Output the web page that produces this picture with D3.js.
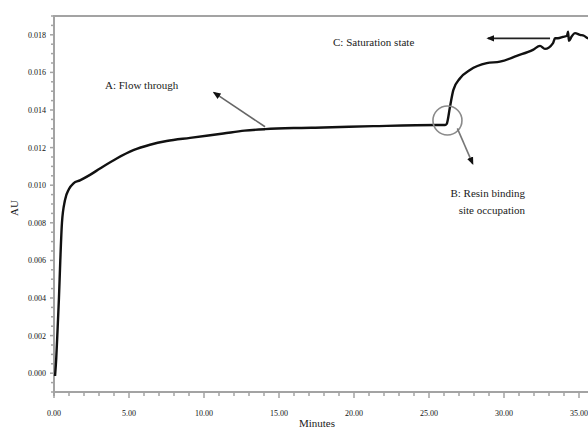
<!DOCTYPE html>
<html>
<head>
    <title>Breakthrough curve</title>
    <script src="https://d3js.org/d3.v7.min.js"></script>
    <style>
        body {
            margin: 0;
            background: #fff;
            overflow: hidden;
        }

        svg text {
            font-family: "Liberation Serif", "Times New Roman", serif;
            fill: #1a1a1a;
        }

        .axis-line {
            stroke: #a3a3a3;
            stroke-width: 2;
        }

        .tick-mark {
            stroke: #a3a3a3;
            stroke-width: 1.5;
        }

        .tick-label {
            font-size: 8px;
            fill: #111;
        }

        .trace {
            fill: none;
            stroke: #111;
            stroke-width: 2.4;
            stroke-linejoin: round;
        }

        .note {
            font-size: 11px;
        }
    </style>
</head>
<body>
    <div id="chart"></div>

    <script>
        // Elution time (min) and absorbance (AU)
        const timeMin = [
            0.07, 0.15, 0.22, 0.33, 0.42, 0.53, 0.73, 1.0, 1.3, 1.73,
            2.4, 3.07, 4.18, 5.29, 6.4, 7.51, 9.07, 11.29, 12.7, 14.07,
            16.0, 17.96, 21.29, 25.51, 26.07, 26.18, 26.4, 26.62, 27.07, 27.73,
            28.85, 29.73, 30.85, 31.93, 32.4, 32.73, 33.27, 33.4, 33.6, 33.93,
            34.2, 34.27, 34.33, 34.51, 34.73, 35.07, 35.33, 35.6, 36.0
        ];
        const absorbance = [
            -0.00015, 0.0008, 0.002, 0.004, 0.006, 0.008, 0.0092, 0.0098, 0.0101, 0.01026,
            0.01055, 0.01089, 0.01142, 0.01186, 0.01215, 0.01235, 0.01252, 0.01275, 0.0129, 0.01298,
            0.01304, 0.01307, 0.01314, 0.0132, 0.0132, 0.01326, 0.01417, 0.01506, 0.01569, 0.01613,
            0.01649, 0.01657, 0.01688, 0.0172, 0.01741, 0.01725, 0.01756, 0.01782, 0.01782, 0.01789,
            0.01795, 0.01816, 0.01768, 0.01791, 0.01809, 0.018, 0.01795, 0.01782, 0.0179
        ];

        const yTickValues = [0, 0.002, 0.004, 0.006, 0.008, 0.010, 0.012, 0.014, 0.016, 0.018];
        const xTickValues = [0, 5, 10, 15, 20, 25, 30, 35];

        // Annotations in data units: [time, AU]
        const labelA = { text: "A: Flow through", at: [3.4, 0.01512] };
        const arrowA = [[14.07, 0.01311], [10.67, 0.01492]];
        const labelB = { lines: ["B: Resin binding", "site occupation"], at: [31.4, 0.00935], gap: 0.00088 };
        const circleB = { at: [26.23, 0.01344], r: 14.5 };
        const arrowB = [[26.89, 0.01302], [27.91, 0.01115]];
        const labelC = { text: "C: Saturation state", at: [18.6, 0.01741] };
        const arrowC = [[33.07, 0.01781], [28.93, 0.01781]];

        const width = 588, height = 428;
        const plotLeft = 54, plotRight = 600, plotTop = 16, plotBottom = 392;

        const x = d3.scaleLinear().domain([0, 36.4]).range([plotLeft, plotRight]);
        const y = d3.scaleLinear().domain([-0.001, 0.019]).range([plotBottom, plotTop]);

        const svg = d3.select("#chart")
            .append("svg")
            .attr("width", width)
            .attr("height", height);

        const defs = svg.append("defs");
        function marker(id, color) {
            defs.append("marker")
                .attr("id", id)
                .attr("viewBox", "0 0 10 10")
                .attr("refX", 8)
                .attr("refY", 5)
                .attr("markerUnits", "userSpaceOnUse")
                .attr("markerWidth", 8)
                .attr("markerHeight", 8)
                .attr("orient", "auto")
                .append("path")
                .attr("d", "M0,1 L10,5 L0,9 Z")
                .attr("fill", color);
        }
        marker("headDark", "#111");

        // frame: top border
        svg.append("line")
            .attr("class", "axis-line")
            .attr("x1", plotLeft).attr("x2", plotRight)
            .attr("y1", plotTop).attr("y2", plotTop);

        // y axis
        const yMinor = d3.range(-0.001, 0.01901, 0.0005);
        svg.append("g").selectAll("line")
            .data(yMinor)
            .join("line")
            .attr("class", "tick-mark")
            .attr("x1", d => plotLeft - (yTickValues.some(v => Math.abs(v - d) < 1e-9) ? 4 : 3))
            .attr("x2", plotLeft)
            .attr("y1", d => y(d)).attr("y2", d => y(d));

        svg.append("line")
            .attr("class", "axis-line")
            .attr("x1", plotLeft).attr("x2", plotLeft)
            .attr("y1", plotTop - 1).attr("y2", plotBottom + 4);

        svg.append("g").selectAll("text")
            .data(yTickValues)
            .join("text")
            .attr("class", "tick-label")
            .attr("x", plotLeft - 8)
            .attr("y", d => y(d) + 3)
            .attr("text-anchor", "end")
            .text(d3.format(".3f"));

        // x axis
        const xMinor = d3.range(0, 37, 1);
        svg.append("g").selectAll("line")
            .data(xMinor)
            .join("line")
            .attr("class", "tick-mark")
            .attr("x1", d => x(d)).attr("x2", d => x(d))
            .attr("y1", plotBottom)
            .attr("y2", d => plotBottom + (d % 5 === 0 ? 6 : 4));

        svg.append("line")
            .attr("class", "axis-line")
            .attr("x1", plotLeft - 1).attr("x2", plotRight)
            .attr("y1", plotBottom).attr("y2", plotBottom);

        svg.append("g").selectAll("text")
            .data(xTickValues)
            .join("text")
            .attr("class", "tick-label")
            .attr("x", d => x(d))
            .attr("y", 416)
            .attr("text-anchor", "middle")
            .text(d3.format(".2f"));

        svg.append("text")
            .attr("x", 317)
            .attr("y", 427)
            .attr("text-anchor", "middle")
            .style("font-size", "11px")
            .text("Minutes");

        svg.append("text")
            .attr("transform", "translate(18,208) rotate(-90)")
            .attr("text-anchor", "middle")
            .style("font-size", "11px")
            .text("AU");

        // trace
        const line = d3.line()
            .x(d => x(d[0]))
            .y(d => y(d[1]))
            .curve(d3.curveMonotoneX);

        svg.append("path")
            .datum(d3.zip(timeMin, absorbance))
            .attr("class", "trace")
            .attr("d", line);

        // annotations
        function arrow(pts, color, w) {
            svg.append("line")
                .attr("x1", x(pts[0][0])).attr("y1", y(pts[0][1]))
                .attr("x2", x(pts[1][0])).attr("y2", y(pts[1][1]))
                .attr("stroke", color)
                .attr("stroke-width", w)
                .attr("marker-end", "url(#headDark)");
        }

        svg.append("text")
            .attr("class", "note")
            .attr("x", x(labelA.at[0])).attr("y", y(labelA.at[1]))
            .text(labelA.text);
        arrow(arrowA, "#666", 1.6);

        svg.append("circle")
            .attr("cx", x(circleB.at[0])).attr("cy", y(circleB.at[1]))
            .attr("r", circleB.r)
            .attr("fill", "none")
            .attr("stroke", "#8a8a8a")
            .attr("stroke-width", 1.6);
        arrow(arrowB, "#777", 1.6);

        svg.append("g").selectAll("text")
            .data(labelB.lines)
            .join("text")
            .attr("class", "note")
            .attr("x", x(labelB.at[0]))
            .attr("y", (d, i) => y(labelB.at[1] - i * labelB.gap))
            .attr("text-anchor", "end")
            .text(d => d);

        svg.append("text")
            .attr("class", "note")
            .attr("x", x(labelC.at[0])).attr("y", y(labelC.at[1]))
            .text(labelC.text);
        arrow(arrowC, "#222", 1.8);
    </script>
</body>
</html>
